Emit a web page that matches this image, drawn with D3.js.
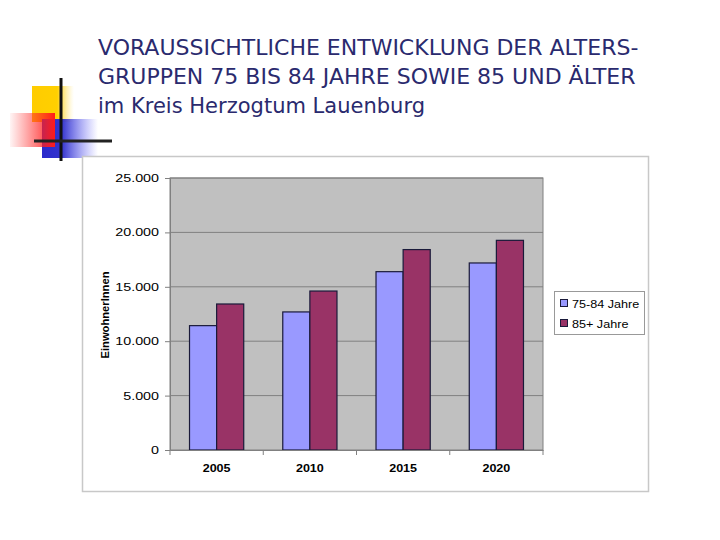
<!DOCTYPE html>
<html><head><meta charset="utf-8">
<script src="https://cdn.jsdelivr.net/npm/d3@7"></script>
<style>body{margin:0;background:#fff}svg{display:block}</style>
</head><body>
<svg id="c" width="720" height="540"></svg>
<script>
const titleLines = ["VORAUSSICHTLICHE ENTWICKLUNG DER ALTERS-", "GRUPPEN 75 BIS 84 JAHRE SOWIE 85 UND ÄLTER", "im Kreis Herzogtum Lauenburg"];
const categories = ["2005", "2010", "2015", "2020"];
const seriesNames = ["75-84 Jahre", "85+ Jahre"];
const series7584 = [11430, 12690, 16390, 17190];
const series85 = [13420, 14610, 18420, 19270];
const yTicks = [0, 5000, 10000, 15000, 20000, 25000];
const yTickLabels = ["0", "5.000", "10.000", "15.000", "20.000", "25.000"];
const yLabel = "EinwohnerInnen";
const colors = ["#9999ff", "#993366"];

const svg = d3.select("#c");
const defs = svg.append("defs");
function grad(id, stops){
  const g = defs.append("linearGradient").attr("id", id).attr("x1", 0).attr("x2", 1).attr("y1", 0).attr("y2", 0);
  stops.forEach(s => g.append("stop").attr("offset", s[0]).attr("stop-color", s[1]).attr("stop-opacity", s[2]));
}
grad("gy", [[0, "#ffcc00", 1], [0.6, "#ffd000", 1], [1, "#ffe680", 0]]);
grad("gr", [[0, "#ff3333", 0.05], [1, "#ff1a1a", 1]]);
grad("gb", [[0, "#2a2acc", 1], [0.35, "#3333cc", 1], [1, "#6666ff", 0]]);

function stretch(sel, f){
  sel.each(function(){
    const w = this.getComputedTextLength();
    d3.select(this).attr("textLength", w * f).attr("lengthAdjust", "spacingAndGlyphs");
  });
}

// logo
const logo = svg.append("g");
logo.append("rect").attr("x", 32).attr("y", 86).attr("width", 42).attr("height", 36).attr("fill", "url(#gy)");
logo.append("rect").attr("x", 42).attr("y", 119).attr("width", 56).attr("height", 39).attr("fill", "url(#gb)");
logo.append("rect").attr("x", 10).attr("y", 113).attr("width", 45).attr("height", 34).attr("fill", "url(#gr)");
logo.append("line").attr("x1", 61).attr("x2", 61).attr("y1", 78).attr("y2", 161).attr("stroke", "#111").attr("stroke-width", 3);
logo.append("line").attr("x1", 34).attr("x2", 112).attr("y1", 141).attr("y2", 141).attr("stroke", "#222").attr("stroke-width", 3);

// title
const tt = svg.append("g").selectAll("text").data(titleLines).join("text")
  .attr("x", 98).attr("y", (d, i) => 55 + i * 29)
  .attr("font-family", "Verdana, 'DejaVu Sans', sans-serif").attr("font-size", 22)
  .attr("fill", "#2a2a6e").text(d => d);
stretch(tt.filter((d, i) => i === 2), 0.955);

// chart frame
svg.append("rect").attr("x", 82.5).attr("y", 156.5).attr("width", 566).attr("height", 335)
  .attr("fill", "#fff").attr("stroke", "#c8c8c8").attr("stroke-width", 1.5);

const m = {l: 170, r: 543, t: 178, b: 450};
const x = d3.scaleBand().domain(categories).range([m.l, m.r]).paddingInner(0).paddingOuter(0);
const y = d3.scaleLinear().domain([0, 25000]).range([m.b, m.t]);
const xs = d3.scaleBand().domain([0, 1]).range([0, x.bandwidth()]).paddingInner(0).paddingOuter(0.72);

svg.append("rect").attr("x", m.l).attr("y", m.t).attr("width", m.r - m.l).attr("height", m.b - m.t)
  .attr("fill", "#c0c0c0").attr("stroke", "#808080").attr("stroke-width", 1);

// gridlines
svg.append("g").selectAll("line").data(yTicks.slice(1)).join("line")
  .attr("x1", m.l).attr("x2", m.r).attr("y1", d => y(d)).attr("y2", d => y(d))
  .attr("stroke", "#808080").attr("stroke-width", 1);

// bars
const data = [series7584, series85];
categories.forEach((c, i) => {
  data.forEach((s, j) => {
    svg.append("rect")
      .attr("x", x(c) + xs(j)).attr("y", y(s[i]))
      .attr("width", xs.bandwidth()).attr("height", y(0) - y(s[i]))
      .attr("fill", colors[j]).attr("stroke", "#1a1a3a").attr("stroke-width", 1.2);
  });
});

// y axis
const yAxis = d3.axisLeft(y).tickValues(yTicks).tickFormat((d, i) => yTickLabels[i]).tickSize(5).tickPadding(6);
const ga = svg.append("g").attr("transform", `translate(${m.l},0)`).call(yAxis);
ga.select(".domain").attr("stroke", "#808080");
ga.selectAll(".tick line").attr("stroke", "#808080");
ga.selectAll("text").attr("font-family", "Arial, 'Liberation Sans', sans-serif").attr("font-size", 11).attr("fill", "#000");
stretch(ga.selectAll("text"), 1.3);

// x axis
const xAxis = d3.axisBottom(x).tickSize(0).tickPadding(14);
const gx = svg.append("g").attr("transform", `translate(0,${m.b})`).call(xAxis);
gx.select(".domain").attr("stroke", "#808080");
gx.selectAll("text").attr("font-family", "Arial, 'Liberation Sans', sans-serif").attr("font-size", 11).attr("font-weight", "bold").attr("fill", "#000");
stretch(gx.selectAll("text"), 1.14);
svg.append("g").selectAll("line").data(categories.concat(["end"])).join("line")
  .attr("x1", (d, i) => m.l + i * x.bandwidth()).attr("x2", (d, i) => m.l + i * x.bandwidth())
  .attr("y1", m.b).attr("y2", m.b + 5).attr("stroke", "#808080");

// y label
svg.append("text").attr("transform", "translate(109,315) rotate(-90)").attr("text-anchor", "middle")
  .attr("font-family", "Arial, 'Liberation Sans', sans-serif").attr("font-size", 11.2).attr("font-weight", "bold")
  .text(yLabel);

// legend
const lg = svg.append("g");
lg.append("rect").attr("x", 554.5).attr("y", 291.5).attr("width", 90).attr("height", 43)
  .attr("fill", "#fff").attr("stroke", "#999");
seriesNames.forEach((n, i) => {
  lg.append("rect").attr("x", 560.5).attr("y", 299.5 + i * 20).attr("width", 7).attr("height", 7)
    .attr("fill", colors[i]).attr("stroke", "#1a1a3a");
  const t = lg.append("text").attr("x", 572).attr("y", 307.5 + i * 20)
    .attr("font-family", "Arial, 'Liberation Sans', sans-serif").attr("font-size", 10.5).text(n);
  stretch(t, 1.2);
});
</script>
</body></html>
